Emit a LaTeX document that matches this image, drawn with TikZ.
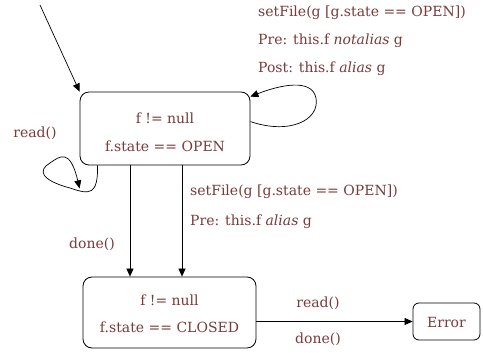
\documentclass[tikz,border=0pt]{standalone}
\usepackage{fontspec}
\setmainfont{DejaVu Serif}
\usetikzlibrary{arrows.meta}
\definecolor{labelred}{RGB}{122,58,58}
\begin{document}
\begin{tikzpicture}[x=1pt,y=-1pt,
  state/.style={draw, rounded corners=9pt, line width=0.8pt},
  lbl/.style={text=labelred, font=\fontsize{14}{16}\selectfont, inner sep=0pt},
  tr/.style={-{Triangle[length=8pt,width=7pt]}, line width=0.7pt}]
\useasboundingbox (0,0) rectangle (483,353);
% states
\node[state, minimum width=170pt, minimum height=73pt] (open) at (165,128.5) {};
\node[state, minimum width=173pt, minimum height=71pt] (closed) at (169.5,312.5) {};
\node[state, minimum width=67pt, minimum height=37pt, rounded corners=6pt] (err) at (446.5,321.5) {};
% state texts
\node[lbl] (o1) at (165,118) {f != null};
\node[lbl] (o2) at (165,146) {f.state == OPEN};
\node[lbl] (c1) at (169.5,300) {f != null};
\node[lbl] (c2) at (169.5,327) {f.state == CLOSED};
\node[lbl] (e1) at (446.5,322) {Error};
% initial transition
\coordinate (init) at (40,5);
\draw[tr] (init) -- (open.north west);
% self loop on the right
\coordinate (rs) at ([yshift=-30pt]open.north east);
\coordinate (re) at ([yshift=-5pt]open.north east);
\draw[tr] (rs) .. controls (290,135) and (320,120) .. (316,98)
          .. controls (312,78) and (280,85) .. (re);
% self loop on the left
\coordinate (ls) at ([xshift=18pt]open.south west);
\coordinate (le) at ([yshift=-23pt]open.south west);
\draw[tr] (ls) .. controls (98,195) and (90,195) .. (70,188)
          .. controls (40,180) and (38,170) .. (50,163)
          .. controls (60,156) and (70,148) .. (le);
% open -> closed
\draw[tr] ([xshift=-35pt]open.south) -- ([xshift=-39.5pt]closed.north);
\draw[tr] ([xshift=17pt]open.south) -- ([xshift=12.5pt]closed.north);
% closed -> error
\draw[tr] (closed.east |- err.west) -- (err.west);
% transition labels
\node[lbl, anchor=west] (t1) at (258,13) {setFile(g [g.state == OPEN])};
\node[lbl, anchor=west] (t2) at (258,41) {Pre: this.f \textit{notalias} g};
\node[lbl, anchor=west] (t3) at (258,69) {Post: this.f \textit{alias} g};
\node[lbl] (rd) at (35,133) {read()};
\node[lbl] (dn) at (92,244) {done()};
\node[lbl, anchor=west] (s1) at (190,192) {setFile(g [g.state == OPEN])};
\node[lbl, anchor=west] (s2) at (190,222) {Pre: this.f \textit{alias} g};
\node[lbl] (er1) at (318,303) {read()};
\node[lbl] (er2) at (318,339) {done()};
\end{tikzpicture}
\end{document}
